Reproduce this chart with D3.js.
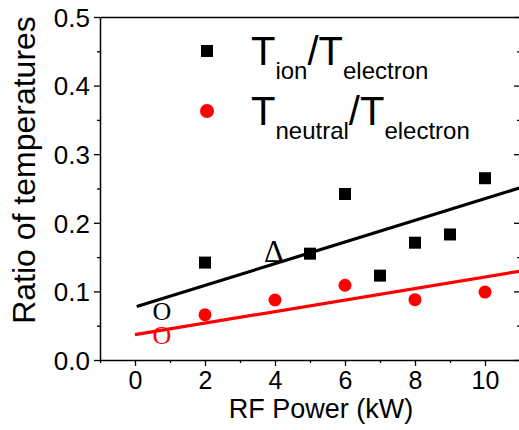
<!DOCTYPE html>
<html>
<head>
<meta charset="utf-8">
<script src="https://cdn.jsdelivr.net/npm/d3@7"></script>
<style>
  html, body { margin: 0; padding: 0; background: #fff; }
  svg { display: block; }
  text { font-family: Arial, "Liberation Sans", Helvetica, sans-serif; fill: #000; }
</style>
</head>
<body>
<svg id="chart" width="519" height="430"></svg>
<script>
// Measured temperature ratios versus RF power
const ionPower = [2, 5, 6, 7, 8, 9, 10];
const ionRatio = [0.142, 0.155, 0.242, 0.123, 0.171, 0.183, 0.265];
const neutralPower = [2, 4, 6, 8, 10];
const neutralRatio = [0.066, 0.0875, 0.109, 0.088, 0.099];

// Linear fit end points (power, ratio)
const ionFit = [[0.05, 0.078], [11, 0.251]];
const neutralFit = [[0, 0.037], [11, 0.1295]];

// Marked reference values
const markers = [
  { label: "O", x: 0.77, y: 0.058, color: "#000", size: 26 },
  { label: "O", x: 0.77, y: 0.024, color: "#f00", size: 26 },
  { label: "\u0394", x: 3.97, y: 0.143, color: "#000", size: 31 }
];

const xTicks = [0, 2, 4, 6, 8, 10];
const xMinor = [-1, 1, 3, 5, 7, 9, 11];
const yTicks = [0, 0.1, 0.2, 0.3, 0.4, 0.5];
const yMinor = [0.05, 0.15, 0.25, 0.35, 0.45];

const svg = d3.select("#chart");
const x = d3.scaleLinear().domain([-1, 11]).range([100, 520]);
const y = d3.scaleLinear().domain([0, 0.5]).range([360, 17]);

const RED = "#f00";
const fmt = d3.format(".1f");

// Clip for plot contents
svg.append("defs").append("clipPath").attr("id", "plot")
  .append("rect").attr("x", x(-1)).attr("y", y(0.5))
  .attr("width", x(11) - x(-1)).attr("height", y(0) - y(0.5));

// Axes
function styleAxis(g) {
  g.selectAll("path").attr("stroke", "#000").attr("stroke-width", 1.5);
  g.selectAll("line").attr("stroke", "#000").attr("stroke-width", 1.3);
  g.selectAll("text").style("font-size", "25px").attr("fill", "#000");
}

svg.append("g").attr("transform", `translate(0,${y(0)})`)
  .call(d3.axisBottom(x).tickValues(xMinor).tickSize(3).tickFormat(""))
  .call(g => g.select(".domain").remove())
  .call(styleAxis);
svg.append("g").attr("transform", `translate(0,${y(0)})`)
  .call(d3.axisBottom(x).tickValues(xTicks).tickSize(6).tickSizeOuter(0).tickPadding(5).tickFormat(d3.format("d")))
  .call(styleAxis);

svg.append("g").attr("transform", `translate(${x(-1)},0)`)
  .call(d3.axisLeft(y).tickValues(yMinor).tickSize(3).tickFormat(""))
  .call(g => g.select(".domain").remove())
  .call(styleAxis);
svg.append("g").attr("transform", `translate(${x(-1)},0)`)
  .call(d3.axisLeft(y).tickValues(yTicks).tickSize(6).tickSizeOuter(0).tickPadding(4).tickFormat(fmt))
  .call(styleAxis)
  .call(g => g.selectAll("text").attr("dy", "0.36em").style("font-size", "26px"));

// Top and right frame, right side carries inward ticks
svg.append("g").attr("transform", `translate(0,${y(0.5)})`)
  .call(d3.axisTop(x).tickValues([]).tickSizeOuter(0))
  .call(styleAxis);
svg.append("g").attr("transform", `translate(${x(11)},0)`)
  .call(d3.axisRight(y).tickValues(yTicks).tickSize(-6).tickSizeOuter(0).tickFormat(""))
  .call(styleAxis);
svg.append("g").attr("transform", `translate(${x(11)},0)`)
  .call(d3.axisRight(y).tickValues(yMinor).tickSize(-3).tickFormat(""))
  .call(g => g.select(".domain").remove())
  .call(styleAxis);

// Axis titles
svg.append("text")
  .attr("x", 321).attr("y", 418)
  .attr("text-anchor", "middle")
  .style("font-size", "27px")
  .text("RF Power (kW)");
svg.append("text")
  .attr("transform", `translate(35,170) rotate(-90)`)
  .attr("text-anchor", "middle")
  .style("font-size", "32px")
  .text("Ratio of temperatures");

const plot = svg.append("g").attr("clip-path", "url(#plot)");

// Fit lines
const line = d3.line().x(d => x(d[0])).y(d => y(d[1]));
plot.append("path").datum(ionFit).attr("d", line)
  .attr("fill", "none").attr("stroke", "#000").attr("stroke-width", 3.2);
plot.append("path").datum(neutralFit).attr("d", line)
  .attr("fill", "none").attr("stroke", RED).attr("stroke-width", 3.2);

// Data points
const sq = 12;
plot.selectAll("rect.ion").data(d3.zip(ionPower, ionRatio)).join("rect")
  .attr("class", "ion")
  .attr("x", d => x(d[0]) - sq / 2).attr("y", d => y(d[1]) - sq / 2)
  .attr("width", sq).attr("height", sq).attr("fill", "#000");
plot.selectAll("circle.neutral").data(d3.zip(neutralPower, neutralRatio)).join("circle")
  .attr("class", "neutral")
  .attr("cx", d => x(d[0])).attr("cy", d => y(d[1])).attr("r", 6.5)
  .attr("fill", RED);

// Reference markers in serif glyphs
plot.selectAll("text.mark").data(markers).join("text")
  .attr("class", "mark")
  .attr("x", d => x(d.x)).attr("y", d => y(d.y))
  .attr("text-anchor", "middle")
  .style("font-family", "'Times New Roman', 'Liberation Serif', serif")
  .style("font-size", d => d.size + "px")
  .style("fill", d => d.color)
  .text(d => d.label);

// Legend
const legend = [
  { sub1: "ion", sub2: "electron", shape: "square", color: "#000" },
  { sub1: "neutral", sub2: "electron", shape: "circle", color: RED }
];
legend.forEach((item, i) => {
  const base = 65 + i * 60;
  const cy = base - 14;
  if (item.shape === "square") {
    svg.append("rect").attr("x", 207 - 6).attr("y", cy - 6).attr("width", 12).attr("height", 12).attr("fill", item.color);
  } else {
    svg.append("circle").attr("cx", 207).attr("cy", cy).attr("r", 7).attr("fill", item.color);
  }
  const t = svg.append("text").attr("x", 251).attr("y", base).style("font-size", "40px");
  t.append("tspan").text("T");
  t.append("tspan").attr("dy", 14).style("font-size", "24px").text(item.sub1);
  t.append("tspan").attr("dy", -14).text("/T");
  t.append("tspan").attr("dy", 14).style("font-size", "24px").text(item.sub2);
});
</script>
</body>
</html>
